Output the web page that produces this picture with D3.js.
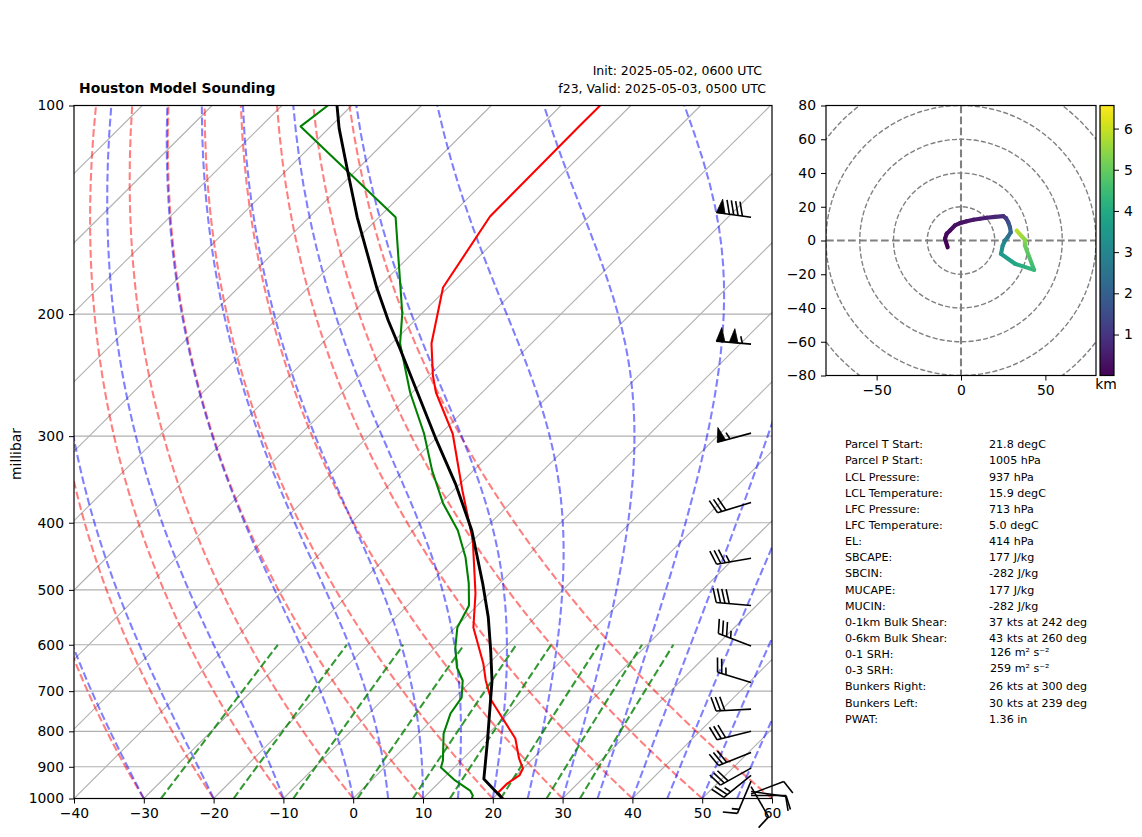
<!DOCTYPE html>
<html><head><meta charset="utf-8">
<script src="https://cdn.jsdelivr.net/npm/d3@7"></script>
<style>
html,body{margin:0;padding:0;background:#fff}
svg{display:block;font-family:"DejaVu Sans",sans-serif}
.tick text{font-family:"DejaVu Sans",sans-serif;font-size:13.9px;fill:#000}
.tick line,.domain{stroke:#000}
</style></head><body>
<svg id="c" width="1142" height="837"></svg>
<script>
// Sounding values (hPa, degC)
const tempP=[100,106.9,144.6,183.1,220.5,245.2,259.5,297.4,359.4,424.4,506,566.6,638.5,675.7,722.2,766.6,819.4,875.5,905.2,926.4,951.4,980.2,1005];
const tempT=[-64.4,-64.4,-64.2,-60.7,-54.3,-49.5,-46.6,-38.3,-28.7,-20.0,-12.0,-7.4,-0.8,2.0,5.7,9.9,14.6,18.0,20.0,20.5,19.9,19.9,21.8];
const dewP=[100,107.2,145,199.6,220.5,259.5,297.4,336.4,375.2,410.4,449,489.5,526.6,566.6,605.6,647.1,675.7,715,754,805.9,881.8,902,941.9,973.8,990.1,1000];
const dewT=[-103.4,-104.3,-77.6,-62.8,-58.8,-50.3,-42.4,-35.9,-29.6,-23.6,-18.6,-14.4,-11.2,-9.7,-7.1,-4.0,-1.3,1.0,1.7,3.6,7.4,8.1,12.0,15.6,16.7,17.0];
const parcelP=[100,107.9,124.9,145,183.1,204.3,224.2,301.4,351.2,410.4,489.5,548.1,611.7,675.7,824.9,937,1005];
const parcelT=[-102.1,-98.5,-90.9,-83.1,-70.2,-63.8,-58.1,-40.2,-30.7,-21.6,-12.4,-6.7,-1.6,2.9,10.9,15.9,21.8];
// Wind barbs
const windP=[145,221,297,374,450,526.6,602.6,680,743,800,858,904,926,944,961,977,985,990];
const windSpd=[90,105,55,30,35,40,35,25,30,30,30,30,25,15,10,10,10,10];
const windDir=[278,275,255,253,260,275,291,287,267,256,248,241,231,203,150,98,69,90];
// Hodograph (kt, km)
const hodoU=[-7.9,-9.5,-8.5,-6.5,-3.6,-0.6,3.4,7.3,11.3,15.2,20.1,25.1,26.7,28.0,29,29.5,27.7,26.1,24.7,23.7,32,43.3,37.9,37.9,33];
const hodoV=[-4.0,1.0,4.0,5.9,8.9,10.3,11.4,12.3,12.9,13.5,14,14.4,13.2,10.8,7.9,4.9,2,0,-3,-7.9,-13.8,-17.4,-3,0.4,5.9];
const hodoH=[0.01,0.1,0.15,0.2,0.25,0.3,0.35,0.4,0.47,0.55,0.7,0.85,1.1,1.5,1.85,2.2,2.5,2.8,3.2,3.5,3.9,4.4,5.1,5.4,5.9];
// Guide families
const isotherms=d3.range(-130,61,10);
const pressureGrid=[100,200,300,400,500,600,700,800,900,1000];
const tempTicks=[-40,-30,-20,-10,0,10,20,30,40,50,60];
const dryStarts=[-30,-20,-10,0,10,20,30,40,50,60];
const moistStarts=[-30,-20,-10,0,5,10,15,20,25,30,35,40,45,50,55,60];
const mixRatios=[0.0004,0.001,0.002,0.004,0.007,0.01,0.016,0.024,0.032];
const hodoRings=[20,40,60,80,100,120];
const hodoYTicks=[80,60,40,20,0,-20,-40,-60,-80];
const hodoXTicks=[-50,0,50];
const cbTicks=[1,2,3,4,5,6];
// Info panel
const infoLabels=["Parcel T Start:","Parcel P Start:","LCL Pressure:","LCL Temperature:","LFC Pressure:","LFC Temperature:","EL:","SBCAPE:","SBCIN:","MUCAPE:","MUCIN:","0-1km Bulk Shear:","0-6km Bulk Shear:","0-1 SRH:","0-3 SRH:","Bunkers Right:","Bunkers Left:","PWAT:"];
const infoValues=["21.8 degC","1005 hPa","937 hPa","15.9 degC","713 hPa","5.0 degC","414 hPa","177 J/kg","-282 J/kg","177 J/kg","-282 J/kg","37 kts at 242 deg","43 kts at 260 deg","126 m² s⁻²","259 m² s⁻²","26 kts at 300 deg","30 kts at 239 deg","1.36 in"];

const svg=d3.select('#c');
const minus=s=>String(s).replace('-','\u2212');
const L=74,R=772,T=105.5,B=798.5,SKEW=1.005;
const xS=d3.scaleLinear().domain([-40,60]).range([L,R]);
const yS=d3.scaleLog().domain([1000,100]).range([B,T]);
const px=(t,p)=>xS(t)+SKEW*(B-yS(p));
const defs=svg.append('defs');
defs.append('clipPath').attr('id','sk').append('rect').attr('x',L).attr('y',T).attr('width',R-L).attr('height',B-T);
const g=svg.append('g').attr('clip-path','url(#sk)');
const ln=d3.line().x(d=>px(d[0],d[1])).y(d=>yS(d[1]));
// grid
g.selectAll('.iso').data(isotherms).join('line')
 .attr('x1',d=>px(d,1000)).attr('y1',B).attr('x2',d=>px(d,100)).attr('y2',T)
 .attr('stroke','#b0b0b0').attr('stroke-width',1.1);
g.selectAll('.pg').data(pressureGrid).join('line')
 .attr('x1',L).attr('x2',R).attr('y1',d=>yS(d)).attr('y2',d=>yS(d))
 .attr('stroke','#b0b0b0').attr('stroke-width',1.1);
// adiabats
const levels=d3.range(1000,99,-10);
const KAPPA=0.285;
dryStarts.forEach(t0=>{
  const pts=levels.map(p=>[(t0+273.15)*Math.pow(p/1000,KAPPA)-273.15,p]);
  g.append('path').attr('d',ln(pts)).attr('fill','none').attr('stroke','#f00').attr('stroke-opacity',.5)
   .attr('stroke-width',2.08).attr('stroke-dasharray','7.7 3.3');
});
function moistRate(Tk,p){
  const Rd=287.05,Cp=1005,Lv=2.501e6,eps=0.622;
  const es=6.112*Math.exp(17.67*(Tk-273.15)/(Tk-29.65));
  const rs=eps*es/(p-es);
  return (Rd*Tk+Lv*rs)/(Cp+Lv*Lv*rs*eps/(Rd*Tk*Tk));
}
moistStarts.forEach(t0=>{
  let Tk=t0+273.15;const pts=[[t0,levels[0]]];
  for(let i=1;i<levels.length;i++){
    const h=Math.log(levels[i]/levels[i-1]);
    const k1=moistRate(Tk,levels[i-1]);
    const k2=moistRate(Tk+h*k1/2,Math.sqrt(levels[i]*levels[i-1]));
    Tk+=h*k2;pts.push([Tk-273.15,levels[i]]);
  }
  g.append('path').attr('d',ln(pts)).attr('fill','none').attr('stroke','#00f').attr('stroke-opacity',.5)
   .attr('stroke-width',2.08).attr('stroke-dasharray','7.7 3.3');
});
const mixLevels=d3.range(1000,599,-20);
mixRatios.forEach(w=>{
  const pts=mixLevels.map(p=>{const e=w*p/(0.622+w),a=Math.log(e/6.112);return [243.5*a/(17.67-a),p];});
  g.append('path').attr('d',ln(pts)).attr('fill','none').attr('stroke','#008000').attr('stroke-opacity',.8)
   .attr('stroke-width',2.08).attr('stroke-dasharray','7.7 3.3');
});
// profiles
const prof=(ts,ps,c,w)=>g.append('path').attr('d',ln(ts.map((t,i)=>[t,ps[i]]))).attr('fill','none').attr('stroke',c).attr('stroke-width',w).attr('stroke-linejoin','round');
prof(tempT,tempP,'#f00',2.08);
prof(dewT,dewP,'#008000',2.08);
prof(parcelT,parcelP,'#000',2.9);
// axes
const fr=svg.append('g');
fr.append('rect').attr('x',L).attr('y',T).attr('width',R-L).attr('height',B-T).attr('fill','none').attr('stroke','#000').attr('stroke-width',1.2);
const ax=svg.append('g').attr('transform',`translate(0,${B})`).call(d3.axisBottom(xS).tickValues(tempTicks).tickSize(5).tickPadding(5).tickFormat(minus));
ax.select('.domain').remove();
const ay=svg.append('g').attr('transform',`translate(${L},0)`).call(d3.axisLeft(yS).tickValues(pressureGrid).tickSize(5).tickPadding(5).tickFormat(d3.format('d')));
ay.select('.domain').remove();
svg.append('text').attr('transform','translate(21,454) rotate(-90)').attr('text-anchor','middle').attr('font-size',13.9).text('millibar');
// titles
svg.append('text').attr('x',79).attr('y',92.5).attr('font-size',13.9).attr('font-weight','bold').text('Houston Model Sounding');
svg.append('text').attr('x',762).attr('y',74.5).attr('text-anchor','end').attr('font-size',12.5).text('Init: 2025-05-02, 0600 UTC');
svg.append('text').attr('x',766).attr('y',92.5).attr('text-anchor','end').attr('font-size',12.5).text('f23, Valid: 2025-05-03, 0500 UTC');
// barbs
const bg=svg.append('g').attr('stroke','#000').attr('fill','#000');
const BX=L+0.97*(R-L),BL=35,BS=BL*.125,BH=BL*.4,BW=BL*.25;
windP.forEach((p,i)=>{
  const rad=windDir[i]*Math.PI/180,dx=Math.sin(rad),dy=-Math.cos(rad),rx=Math.cos(rad),ry=Math.sin(rad),y0=yS(p);
  const pt=(a,b)=>[BX+dx*a+rx*b,y0+dy*a+ry*b];
  const seg=(A,C)=>bg.append('line').attr('x1',A[0]).attr('y1',A[1]).attr('x2',C[0]).attr('y2',C[1]).attr('stroke-width',1.6);
  seg(pt(0,0),pt(BL,0));
  let s=Math.round(windSpd[i]/5)*5,off=0;
  const n50=Math.floor(s/50);s-=n50*50;const n10=Math.floor(s/10);s-=n10*10;const n5=s>=5?1:0;
  for(let k=0;k<n50;k++){
    bg.append('polygon').attr('stroke-width',.8).attr('points',[pt(BL-off,0),pt(BL-off-BW/2,BH),pt(BL-off-BW,0)].map(q=>q.join(',')).join(' '));
    off+=BW+BS;
  }
  for(let k=0;k<n10;k++){seg(pt(BL-off,0),pt(BL-off+BW/2,BH));off+=BS;}
  if(n5){if(n50+n10===0)off=1.5*BS;seg(pt(BL-off,0),pt(BL-off+BW/4,BH/2));}
});
// hodograph
const hL=826,hR=1096,hT=105.5,hB=375.5;
const hx=d3.scaleLinear().domain([-80,80]).range([hL,hR]);
const hy=d3.scaleLinear().domain([-80,80]).range([hB,hT]);
defs.append('clipPath').attr('id','hc').append('rect').attr('x',hL).attr('y',hT).attr('width',hR-hL).attr('height',hB-hT);
const hg=svg.append('g').attr('clip-path','url(#hc)');
hg.selectAll('circle').data(hodoRings).join('circle').attr('cx',hx(0)).attr('cy',hy(0)).attr('r',d=>hx(d)-hx(0))
 .attr('fill','none').attr('stroke','#808080').attr('stroke-width',1.39).attr('stroke-dasharray','5.1 2.2');
hg.append('line').attr('x1',hL).attr('x2',hR).attr('y1',hy(0)).attr('y2',hy(0)).attr('stroke','#808080').attr('stroke-width',2.08).attr('stroke-dasharray','7.7 3.3');
hg.append('line').attr('y1',hT).attr('y2',hB).attr('x1',hx(0)).attr('x2',hx(0)).attr('stroke','#808080').attr('stroke-width',2.08).attr('stroke-dasharray','7.7 3.3');
const CBMIN=0.005,CBMAX=6.56;
const cmap=d3.scaleSequential(d3.interpolateViridis).domain([CBMIN,CBMAX]);
hodoU.slice(1).forEach((_,i)=>{
  const id='hs'+i,x1=hx(hodoU[i]),y1=hy(hodoV[i]),x2=hx(hodoU[i+1]),y2=hy(hodoV[i+1]);
  const gr=defs.append('linearGradient').attr('id',id).attr('gradientUnits','userSpaceOnUse')
    .attr('x1',x1).attr('y1',y1).attr('x2',x2).attr('y2',y2);
  gr.append('stop').attr('offset',0).attr('stop-color',cmap(hodoH[i]));
  gr.append('stop').attr('offset',1).attr('stop-color',cmap(hodoH[i+1]));
  hg.append('line').attr('x1',x1).attr('y1',y1).attr('x2',x2).attr('y2',y2).attr('stroke',`url(#${id})`)
    .attr('stroke-width',4.17).attr('stroke-linecap','round');
});
svg.append('rect').attr('x',hL).attr('y',hT).attr('width',hR-hL).attr('height',hB-hT).attr('fill','none').attr('stroke','#000').attr('stroke-width',1.2);
const hax=svg.append('g').attr('transform',`translate(0,${hB})`).call(d3.axisBottom(hx).tickValues(hodoXTicks).tickSize(5).tickPadding(5).tickFormat(minus));
hax.select('.domain').remove();
const hay=svg.append('g').attr('transform',`translate(${hL},0)`).call(d3.axisLeft(hy).tickValues(hodoYTicks).tickSize(5).tickPadding(5).tickFormat(minus));
hay.select('.domain').remove();
// colour bar
const cL=1100,cR=1114;
const cy=d3.scaleLinear().domain([CBMIN,CBMAX]).range([hB,hT]);
const cg=defs.append('linearGradient').attr('id','cb').attr('x1',0).attr('y1',1).attr('x2',0).attr('y2',0);
d3.range(0,1.0001,.05).forEach(o=>cg.append('stop').attr('offset',o).attr('stop-color',d3.interpolateViridis(o)));
svg.append('rect').attr('x',cL).attr('y',hT).attr('width',cR-cL).attr('height',hB-hT).attr('fill','url(#cb)').attr('stroke','#000').attr('stroke-width',1.2);
const cax=svg.append('g').attr('transform',`translate(${cR},0)`).call(d3.axisRight(cy).tickValues(cbTicks).tickSize(5).tickPadding(5).tickFormat(d3.format('d')));
cax.select('.domain').remove();
svg.append('text').attr('x',1106).attr('y',389).attr('text-anchor','middle').attr('font-size',13.9).text('km');
// info panel
const rowY=d3.scaleLinear().domain([0,infoLabels.length-1]).range([448.3,722.7]);
const info=svg.append('g').attr('font-size',11.1);
infoLabels.forEach((t,i)=>{
  info.append('text').attr('x',845).attr('y',rowY(i)).text(t);
  const srh=infoValues[i].includes('m²');
  info.append('text').attr('x',srh?990:989).attr('y',rowY(i)-(srh?2:0)).text(infoValues[i]);
});
</script></body></html>
